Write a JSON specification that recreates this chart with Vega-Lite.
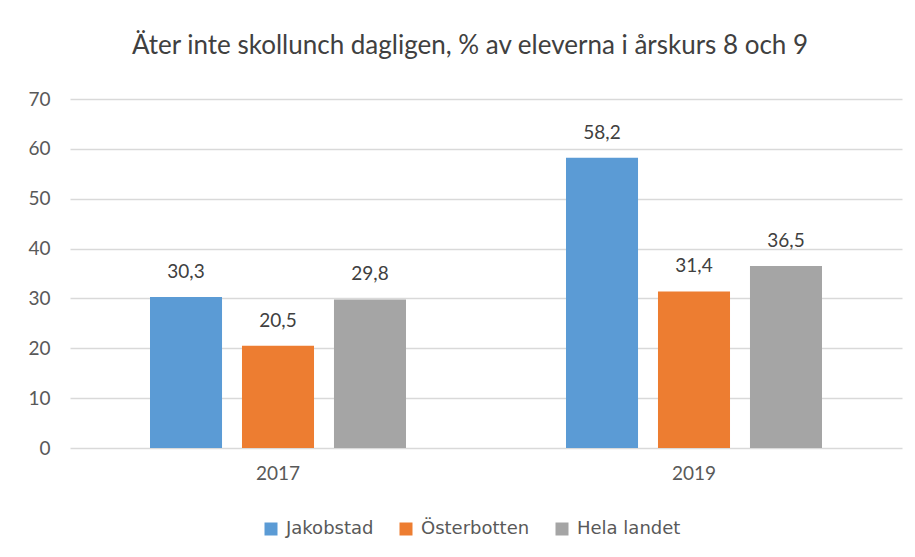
{
  "$schema": "https://vega.github.io/schema/vega-lite/v6.json",
  "autosize": {"type": "none"},
  "width": 832,
  "height": 349,
  "padding": {"left": 70, "top": 99, "right": 13, "bottom": 109},
  "background": "white",
  "config": {
    "font": "Lato",
    "view": {"stroke": null},
    "locale": {
      "number": {"decimal": ",", "thousands": " ", "grouping": [3], "currency": ["", " €"]}
    }
  },
  "title": {
    "text": "Äter inte skollunch dagligen, % av eleverna i årskurs 8 och 9",
    "fontSize": 26,
    "fontWeight": "normal",
    "color": "#404040",
    "font": "Lato",
    "anchor": "middle",
    "dx": -16,
    "offset": 31
  },
  "data": {
    "values": [
      {"year": "2017", "region": "Jakobstad", "value": 30.3},
      {"year": "2017", "region": "Österbotten", "value": 20.5},
      {"year": "2017", "region": "Hela landet", "value": 29.8},
      {"year": "2019", "region": "Jakobstad", "value": 58.2},
      {"year": "2019", "region": "Österbotten", "value": 31.4},
      {"year": "2019", "region": "Hela landet", "value": 36.5}
    ]
  },
  "encoding": {
    "x": {
      "field": "year", "type": "nominal",
      "scale": {"paddingInner": 0.3846, "paddingOuter": 0.1923},
      "axis": {"title": null, "labelAngle": 0, "labelFontSize": 19, "labelColor": "#595959", "labelPadding": 16, "ticks": false, "domain": false, "grid": false}
    },
    "xOffset": {
      "field": "region", "type": "nominal",
      "sort": ["Jakobstad", "Österbotten", "Hela landet"],
      "scale": {"paddingInner": 0.217, "paddingOuter": 0}
    },
    "y": {
      "field": "value", "type": "quantitative",
      "scale": {"domain": [0, 70], "nice": false},
      "axis": {"title": null, "values": [0, 10, 20, 30, 40, 50, 60, 70], "labelFontSize": 19, "labelColor": "#595959", "labelPadding": 20, "ticks": false, "domain": false, "gridColor": "#d9d9d9", "gridWidth": 1.5}
    }
  },
  "layer": [
    {
      "mark": {"type": "bar"},
      "encoding": {
        "color": {
          "field": "region", "type": "nominal",
          "sort": ["Jakobstad", "Österbotten", "Hela landet"],
          "scale": {"domain": ["Jakobstad", "Österbotten", "Hela landet"], "range": ["#5B9BD5", "#ED7D31", "#A5A5A5"]},
          "legend": {
            "title": null, "orient": "none", "direction": "horizontal",
            "legendX": 192, "legendY": 421,
            "symbolType": "square", "symbolSize": 169, "symbolStrokeWidth": 0,
            "labelFont": "DejaVu Sans", "labelFontSize": 18, "labelColor": "#595959",
            "labelOffset": 6, "columnPadding": 23
          }
        }
      }
    },
    {
      "mark": {"type": "text", "dy": -25, "fontSize": 19, "color": "#404040"},
      "encoding": {
        "text": {"field": "value", "type": "quantitative", "format": ".1f"}
      }
    }
  ]
}
